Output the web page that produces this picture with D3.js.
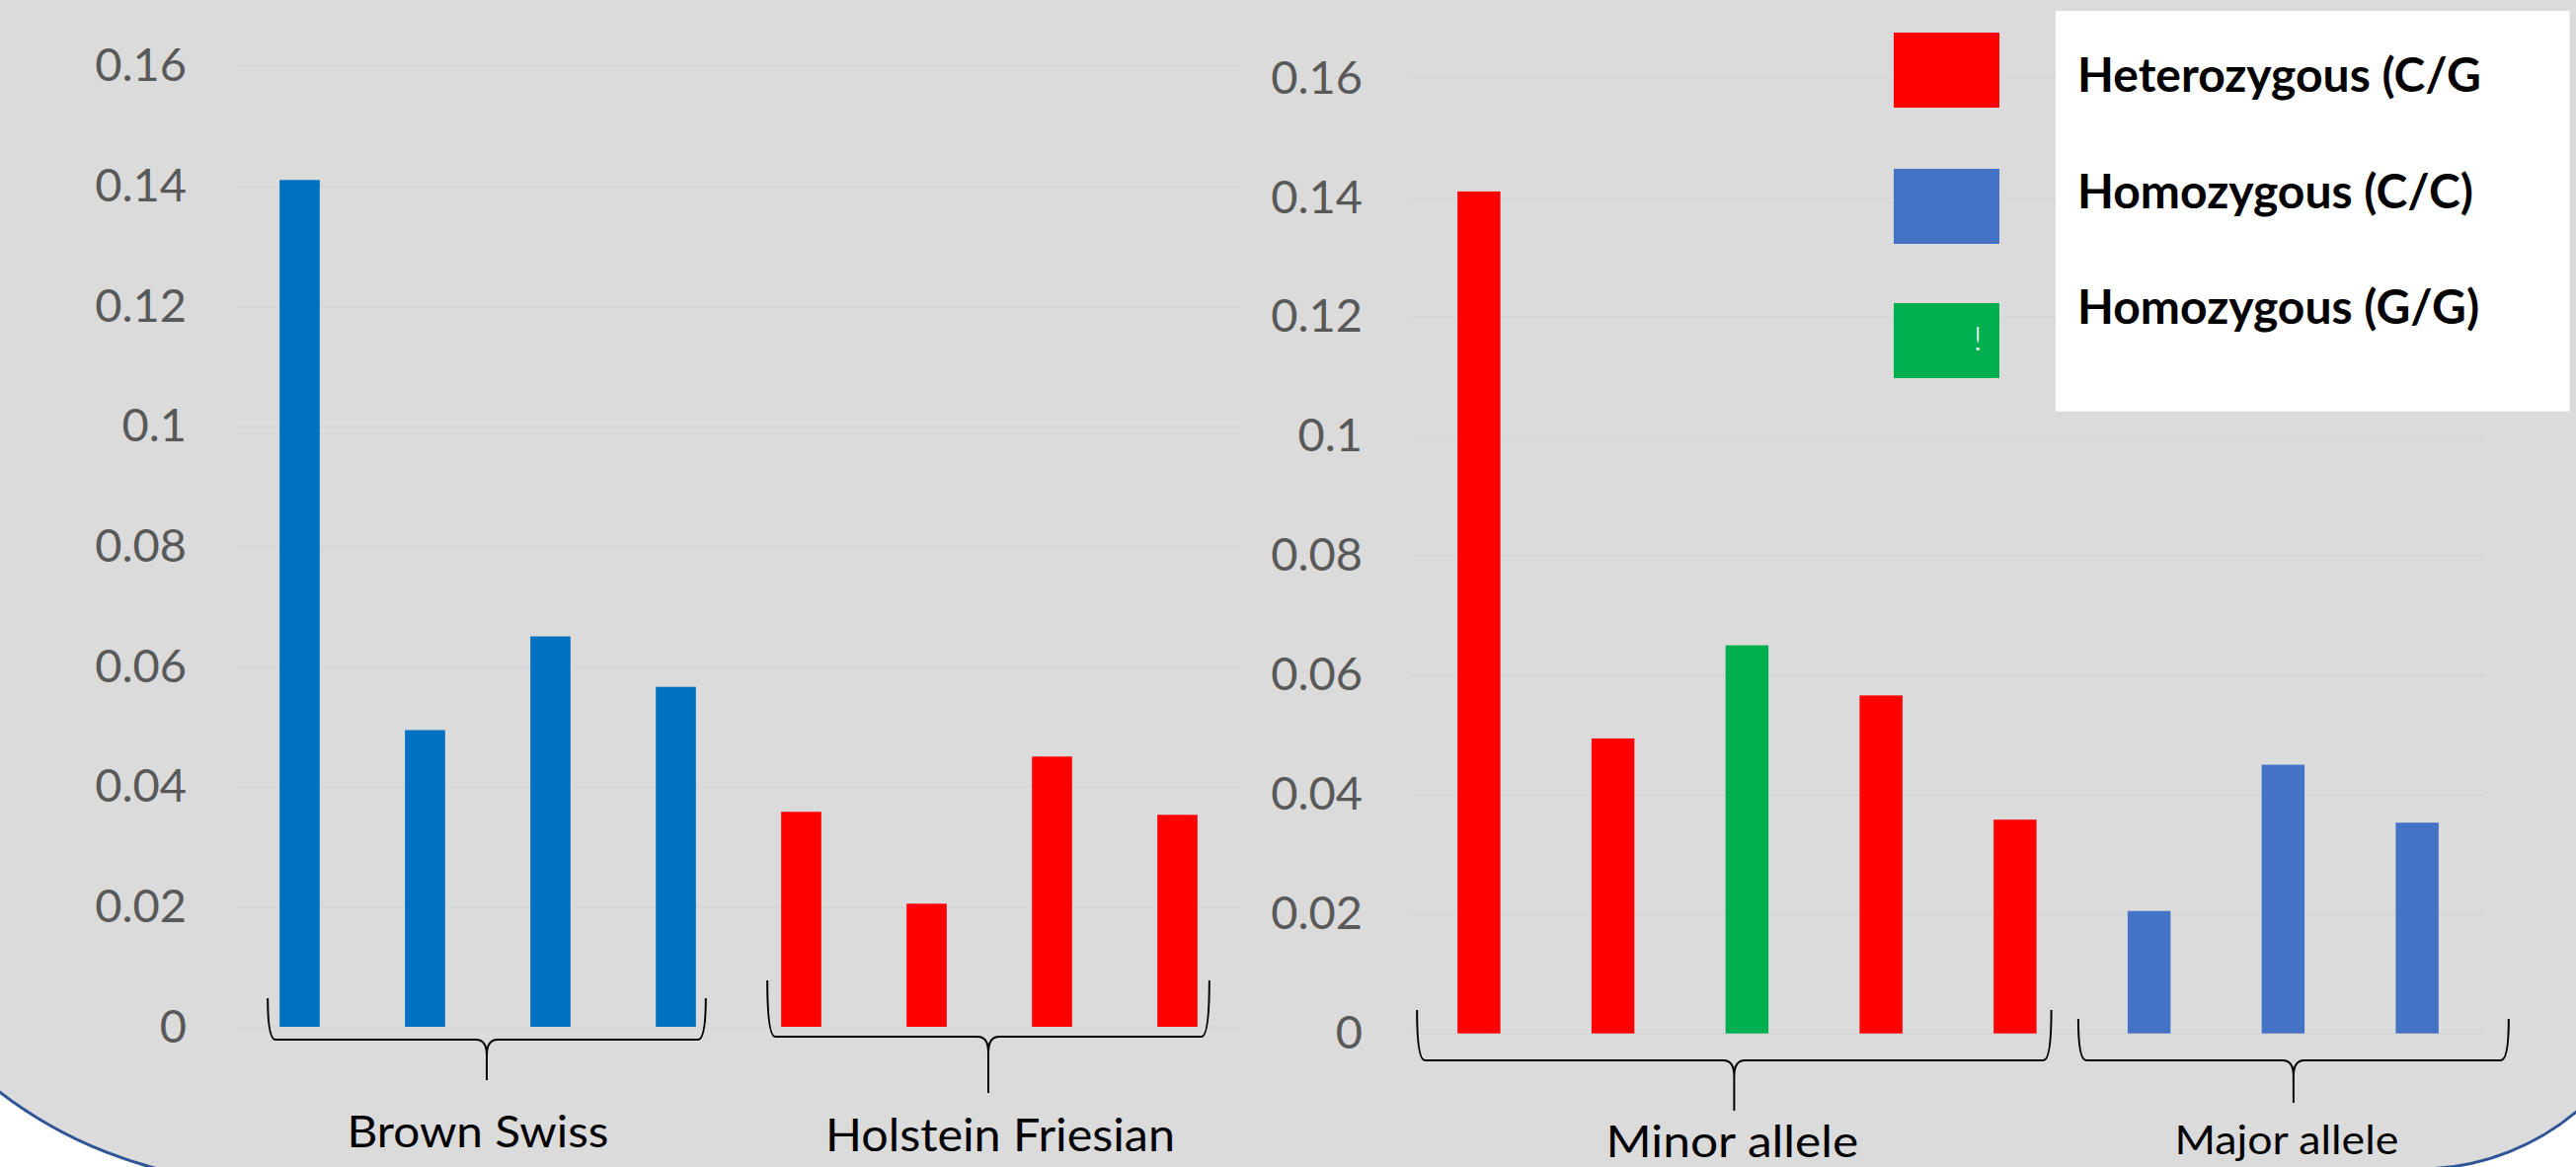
<!DOCTYPE html>
<html>
<head>
<meta charset="utf-8">
<script src="https://cdn.jsdelivr.net/npm/d3@7"></script>
<style>
  html, body { margin: 0; padding: 0; background: #ffffff; overflow: hidden; }
  svg { display: block; }
  text { font-family: Lato, "Open Sans", sans-serif; }
</style>
</head>
<body>
<svg id="chart" width="2609" height="1182"></svg>
<script>
// ---- data ----
const markers = ["SNP1", "SNP2", "SNP3", "SNP4", "SNP5", "SNP6", "SNP7", "SNP8"];
const frequencies = [0.141, 0.0494, 0.065, 0.0566, 0.0358, 0.0205, 0.045, 0.0353];

const breedGroups = ["Brown Swiss", "Holstein Friesian"];
const breedGroupSizes = [4, 4];
const breedColors = ["#0070c0", "#0070c0", "#0070c0", "#0070c0", "#ff0000", "#ff0000", "#ff0000", "#ff0000"];

const alleleGroups = ["Minor allele", "Major allele"];
const alleleGroupSizes = [5, 3];
const genotypeColors = ["#ff0000", "#ff0000", "#00b050", "#ff0000", "#ff0000", "#4472c4", "#4472c4", "#4472c4"];

const legendLabels = ["Heterozygous (C/G", "Homozygous (C/C)", "Homozygous (G/G)"];
const legendColors = ["#ff0000", "#4472c4", "#00b050"];

const yTicks = [0, 0.02, 0.04, 0.06, 0.08, 0.1, 0.12, 0.14, 0.16];
const yTickLabels = ["0", "0.02", "0.04", "0.06", "0.08", "0.1", "0.12", "0.14", "0.16"];

// ---- layout ----
const W = 2609, H = 1182;
const svg = d3.select("#chart");

// slide background: grey rounded panel with a dark-blue outline on white
svg.append("rect").attr("width", W).attr("height", H).attr("fill", "#ffffff");
svg.append("path")
  .attr("d", "M-175,-20 L2698,-20 L2698,936 A248,248 0 0 1 2450,1184 L271,1198 A446,446 0 0 1 -175,752 Z")
  .attr("fill", "#dbdbdb")
  .attr("stroke", "#2f5597")
  .attr("stroke-width", 3);

const panels = [
  {
    x0: 240, x1: 1256, yBase: 1040, yTop: 66.7, labelPad: 51,
    colors: breedColors, groups: breedGroups, sizes: breedGroupSizes,
    braces: [
      { padL: 12, padR: 10, top: 1011, line: 1053, tip: 1094, labelDx: -9, labelY: 1162, fontSize: 44, textLen: 265 },
      { padL: 14, padR: 12, top: 993, line: 1050, tip: 1107, labelDx: 12, labelY: 1166, fontSize: 46, textLen: 354 }
    ]
  },
  {
    x0: 1430, x1: 2516, yBase: 1046.7, yTop: 79, labelPad: 50,
    colors: genotypeColors, groups: alleleGroups, sizes: alleleGroupSizes,
    braces: [
      { padL: 41, padR: 15, top: 1023, line: 1074, tip: 1125, labelDx: -2, labelY: 1172, fontSize: 44, textLen: 256 },
      { padL: 50, padR: 71, top: 1032, line: 1074, tip: 1117, labelDx: -7, labelY: 1169, fontSize: 41, textLen: 227 }
    ]
  }
];

function bracePath(xa, xb, xc, top, yl, tip) {
  const r = 8, c = 11, d = 16;
  return `M${xa},${top} Q${xa},${yl} ${xa + r},${yl} L${xc - c},${yl} Q${xc},${yl} ${xc},${yl + d} L${xc},${tip}` +
         ` M${xc},${yl + d} Q${xc},${yl} ${xc + c},${yl} L${xb - r},${yl} Q${xb},${yl} ${xb},${top}`;
}

panels.forEach(p => {
  const x = d3.scaleBand().domain(markers).range([p.x0, p.x1]).paddingInner(0.68).paddingOuter(0.34);
  const y = d3.scaleLinear().domain([0, 0.16]).range([p.yBase, p.yTop]);

  // value axis with faint gridlines
  const axis = d3.axisLeft(y)
    .tickValues(yTicks)
    .tickFormat((d, i) => yTickLabels[i])
    .tickSizeInner(-(p.x1 - p.x0))
    .tickSizeOuter(0)
    .tickPadding(p.labelPad);
  const g = svg.append("g").attr("transform", `translate(${p.x0},0)`).call(axis);
  g.select(".domain").remove();
  g.selectAll(".tick line").attr("stroke", "#d5d5d5").attr("stroke-width", 1.5);
  g.selectAll(".tick text")
    .attr("fill", "#595959")
    .attr("font-size", 47)
    .style("font-family", "Lato, 'Open Sans', sans-serif");

  // bars
  svg.append("g").selectAll("rect")
    .data(markers)
    .join("rect")
    .attr("x", d => x(d))
    .attr("width", x.bandwidth())
    .attr("y", (d, i) => y(frequencies[i]))
    .attr("height", (d, i) => y(0) - y(frequencies[i]))
    .attr("fill", (d, i) => p.colors[i]);

  // grouping braces and their labels
  let start = 0;
  p.groups.forEach((name, gi) => {
    const b = p.braces[gi];
    const first = markers[start];
    const last = markers[start + p.sizes[gi] - 1];
    const xa = x(first) - b.padL;
    const xb = x(last) + x.bandwidth() + b.padR;
    const xc = (xa + xb) / 2;
    svg.append("path")
      .attr("d", bracePath(xa, xb, xc, b.top, b.line, b.tip))
      .attr("fill", "none")
      .attr("stroke", "#000000")
      .attr("stroke-width", 2);
    svg.append("text")
      .attr("x", xc + b.labelDx)
      .attr("y", b.labelY)
      .attr("text-anchor", "middle")
      .attr("font-size", b.fontSize)
      .attr("textLength", b.textLen)
      .attr("lengthAdjust", "spacingAndGlyphs")
      .attr("fill", "#000000")
      .text(name);
    start += p.sizes[gi];
  });
});

// legend
const legend = svg.append("g");
legend.append("rect")
  .attr("x", 2082).attr("y", 11).attr("width", 520.5).attr("height", 405.7)
  .attr("fill", "#ffffff");
const swatchY = [33, 171, 307];
const labelY = [93.3, 210.7, 328.3];
legend.selectAll(".sw")
  .data(legendColors)
  .join("rect")
  .attr("class", "sw")
  .attr("x", 1918).attr("width", 107)
  .attr("y", (d, i) => swatchY[i]).attr("height", 76)
  .attr("fill", d => d);
legend.selectAll(".lb")
  .data(legendLabels)
  .join("text")
  .attr("class", "lb")
  .attr("x", 2104)
  .attr("y", (d, i) => labelY[i])
  .attr("font-size", 48)
  .attr("font-weight", "bold")
  .attr("fill", "#000000")
  .text(d => d);
// small white mark inside the green swatch
legend.append("text")
  .attr("x", 2003).attr("y", 355)
  .attr("text-anchor", "middle")
  .attr("font-size", 34)
  .attr("font-weight", 300)
  .attr("fill", "#ffffff")
  .text("!");
</script>
</body>
</html>
